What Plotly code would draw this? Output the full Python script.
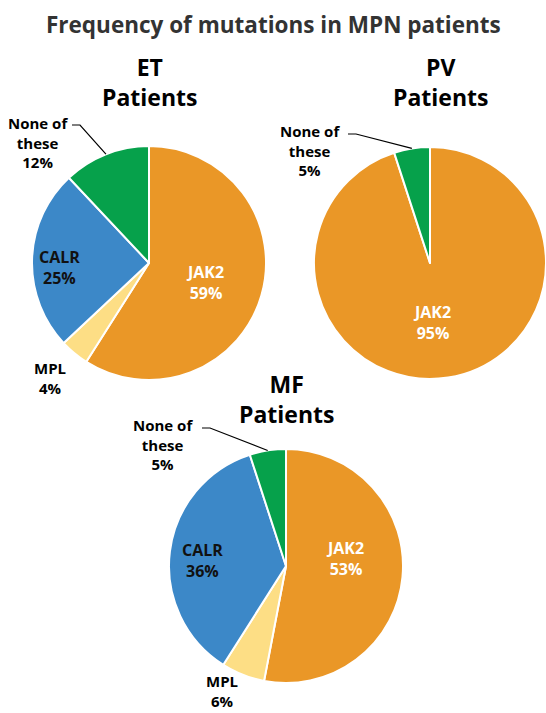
import math
import plotly.graph_objects as go

W, H = 546, 713
FONT = "Open Sans"

# ---- data ----
et_labels = ["JAK2", "MPL", "CALR", "None of<br>these"]
et_values = [59, 4, 25, 12]
pv_labels = ["JAK2", "None of<br>these"]
pv_values = [95, 5]
mf_labels = ["JAK2", "MPL", "CALR", "None of<br>these"]
mf_values = [53, 6, 36, 5]

color_map = {"JAK2": "#EA9727", "MPL": "#FDDE85", "CALR": "#3C88C8", "None of<br>these": "#06A14B"}
inside_color = {"JAK2": "white", "CALR": "#111111"}

# ---- geometry (pixels, styling only) ----
pies = [
    dict(name="ET", labels=et_labels, values=et_values, cx=149, cy=263, r=117, title_x=149, title_y=82,
         label_pos={"JAK2": (205, 282), "CALR": (59, 267), "MPL": (50, 378), "None of<br>these": (38, 143)},
         line_start={"None of<br>these": (72, 125)}),
    dict(name="PV", labels=pv_labels, values=pv_values, cx=430, cy=263, r=116, title_x=440, title_y=82,
         label_pos={"JAK2": (432, 322), "None of<br>these": (310, 151)},
         line_start={"None of<br>these": (348, 134)}),
    dict(name="MF", labels=mf_labels, values=mf_values, cx=286, cy=566, r=117, title_x=286, title_y=399,
         label_pos={"JAK2": (345, 558), "CALR": (202, 560), "MPL": (222, 691), "None of<br>these": (163, 444)},
         line_start={"None of<br>these": (202, 428)}),
]


def px(x):
    return x / W


def py(y):
    return 1 - y / H


fig = go.Figure()
annotations = []
shapes = []

for p in pies:
    labs, vals = p["labels"], p["values"]
    total = sum(vals)
    fig.add_trace(go.Pie(
        labels=labs, values=vals, sort=False, direction="clockwise", rotation=0,
        marker=dict(colors=[color_map[l] for l in labs], line=dict(color="white", width=2)),
        textinfo="none", hoverinfo="label+percent", showlegend=False,
        domain=dict(x=[px(p["cx"] - p["r"]), px(p["cx"] + p["r"])],
                    y=[py(p["cy"] + p["r"]), py(p["cy"] - p["r"])]),
    ))
    # panel title
    annotations.append(dict(text=f"<b>{p['name']}<br>Patients</b>", x=px(p["title_x"]), y=py(p["title_y"]),
                            xref="paper", yref="paper", showarrow=False, xanchor="center", yanchor="middle",
                            font=dict(family=FONT, size=23, color="black"), align="center"))
    cum = 0
    for l, v in zip(labs, vals):
        mid = (cum + v / 2) / total * 2 * math.pi
        cum += v
        lx, ly = p["label_pos"][l]
        inside = l in inside_color
        annotations.append(dict(text=f"<b>{l}<br>{v}%</b>", x=px(lx), y=py(ly),
                                xref="paper", yref="paper", showarrow=False,
                                xanchor="center", yanchor="middle",
                                font=dict(family=FONT, size=16 if inside else 15,
                                          color=inside_color.get(l, "black")),
                                align="center"))
        if l in p["line_start"]:
            sx, sy = p["line_start"][l]
            ex = p["cx"] + p["r"] * math.sin(mid)
            ey = p["cy"] - p["r"] * math.cos(mid)
            path = (f"M {px(sx)} {py(sy)} L {px(sx + 8)} {py(sy)} L {px(ex)} {py(ey)}")
            shapes.append(dict(type="path", xref="paper", yref="paper", path=path,
                               line=dict(color="black", width=1.2)))

annotations.append(dict(text="<b>Frequency of mutations in MPN patients</b>", x=0.5, y=py(24),
                        xref="paper", yref="paper", showarrow=False, xanchor="center", yanchor="middle",
                        font=dict(family=FONT, size=22.5, color="#333333")))

fig.update_layout(width=W, height=H, margin=dict(l=0, r=0, t=0, b=0),
                  paper_bgcolor="white", plot_bgcolor="white",
                  annotations=annotations, shapes=shapes)

fig.write_html("out.html")
